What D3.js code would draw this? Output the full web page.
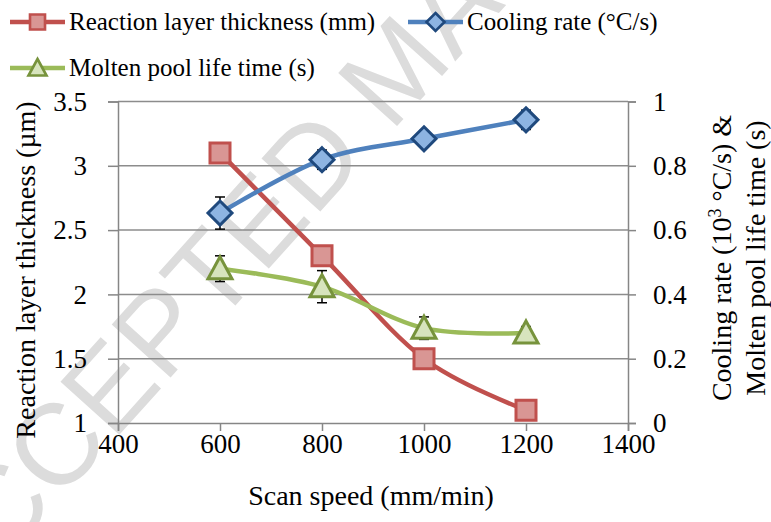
<!DOCTYPE html>
<html>
<head>
<meta charset="utf-8">
<script src="https://cdn.jsdelivr.net/npm/d3@7"></script>
<style>
  body { margin: 0; background: #fff; }
  text { font-family: "Liberation Serif", Tinos, "Times New Roman", Times, "DejaVu Serif", "Noto Serif", serif; fill: #000; }
</style>
</head>
<body>
<div id="chart"></div>
<script>
// scan speeds (mm/min)
const speeds = [600, 800, 1000, 1200];
// reaction layer thickness, left axis
const thickness = [3.1, 2.3, 1.5, 1.1];
// cooling rate (10^3 C/s), right axis
const coolingRate = [0.653, 0.819, 0.884, 0.943];
const coolingErr = [0.05, 0.03, 0.01, 0.03];
// molten pool life time (s), right axis
const poolLife = [0.48, 0.424, 0.295, 0.28];
const poolErr = [0.04, 0.05, 0.035, 0.02];

const xTicks = [400, 600, 800, 1000, 1200, 1400];
const leftTicks = [1, 1.5, 2, 2.5, 3, 3.5];
const rightTicks = [0, 0.2, 0.4, 0.6, 0.8, 1];

const W = 771, H = 522;
const plotL = 118, plotR = 628, plotT = 101.5, plotB = 423;
const serif = '"Liberation Serif", Tinos, "Times New Roman", Times, "DejaVu Serif", "Noto Serif", serif';

const svg = d3.select('#chart').append('svg')
    .attr('width', W)
    .attr('height', H);

// watermark
svg.append('text')
    .attr('transform', 'translate(425,95) rotate(-48)')
    .attr('text-anchor', 'middle')
    .style('font-family', '"Liberation Sans", Arial, sans-serif')
    .style('font-size', '115px')
    .style('fill', '#dcdcdc')
    .text('ACCEPTED MANUSCRIPT');

const x = d3.scaleLinear().domain([400, 1400]).range([plotL, plotR]);
const yL = d3.scaleLinear().domain([1, 3.5]).range([plotB, plotT]);
const yR = d3.scaleLinear().domain([0, 1]).range([plotB, plotT]);

// gridlines
svg.append('g').selectAll('line')
    .data(rightTicks.slice(1))
    .join('line')
    .attr('x1', plotL).attr('x2', plotR)
    .attr('y1', d => yR(d)).attr('y2', d => yR(d))
    .attr('stroke', '#8c8c8c')
    .attr('stroke-width', 1.5);

// axes
const gx = svg.append('g')
    .attr('transform', `translate(0,${plotB})`)
    .call(d3.axisBottom(x).tickValues(xTicks).tickSize(8).tickPadding(3).tickFormat(d3.format('d')));
const gl = svg.append('g')
    .attr('transform', `translate(${plotL},0)`)
    .call(d3.axisLeft(yL).tickValues(leftTicks).tickSize(10).tickPadding(21).tickFormat(d => d));
const gr = svg.append('g')
    .attr('transform', `translate(${plotR},0)`)
    .call(d3.axisRight(yR).tickValues(rightTicks).tickSize(8).tickPadding(17).tickFormat(d => d));

[gx, gl, gr].forEach(g => {
    g.attr('font-family', serif);
    g.select('.domain').attr('stroke', '#868686').attr('stroke-width', 1.5);
    g.selectAll('.tick line').attr('stroke', '#868686').attr('stroke-width', 1.5);
    g.selectAll('.tick text')
        .style('font-family', serif)
        .style('font-size', '27px')
        .attr('fill', '#000');
});

// axis titles
svg.append('text')
    .attr('x', 371).attr('y', 505)
    .attr('text-anchor', 'middle')
    .style('font-size', '28px')
    .text('Scan speed (mm/min)');

svg.append('text')
    .attr('transform', 'translate(35,270) rotate(-90)')
    .attr('text-anchor', 'middle')
    .style('font-size', '28px')
    .text('Reaction layer thickness (µm)');

const rt = svg.append('text')
    .attr('transform', 'translate(731,258) rotate(-90)')
    .attr('text-anchor', 'middle')
    .style('font-size', '28px');
rt.append('tspan').text('Cooling rate (10');
rt.append('tspan').attr('dy', -10).style('font-size', '18px').text('3');
rt.append('tspan').attr('dy', 10).text(' °C/s) &');
svg.append('text')
    .attr('transform', 'translate(765,258) rotate(-90)')
    .attr('text-anchor', 'middle')
    .style('font-size', '28px')
    .text('Molten pool life time (s)');

// series
const curve = d3.curveCatmullRom.alpha(0);
const series = [
    {name: 'Reaction layer thickness (mm)', vals: thickness, err: null, y: yL,
     line: '#C0504D', fill: '#D99694', stroke: '#C0504D', shape: 'square'},
    {name: 'Cooling rate (°C/s)', vals: coolingRate, err: coolingErr, y: yR,
     line: '#4F81BD', fill: '#8DB4E2', stroke: '#1F497D', shape: 'diamond'},
    {name: 'Molten pool life time (s)', vals: poolLife, err: poolErr, y: yR,
     line: '#9BBB59', fill: '#D7E4BD', stroke: '#77933C', shape: 'triangle'}
];

function markerPath(shape) {
    if (shape === 'square') return 'M-10,-10H10V10H-10Z';
    if (shape === 'diamond') return 'M0,-12L12,0L0,12L-12,0Z';
    return 'M0,-12L12,10H-12Z';
}

series.forEach(s => {
    const pts = speeds.map((sp, i) => [x(sp), s.y(s.vals[i])]);
    svg.append('path')
        .attr('d', d3.line().curve(curve)(pts))
        .attr('fill', 'none')
        .attr('stroke', s.line)
        .attr('stroke-width', 4.5)
        .attr('stroke-linejoin', 'round');

    if (s.err) {
        const eg = svg.append('g');
        speeds.forEach((sp, i) => {
            const cx = x(sp), y1 = s.y(s.vals[i] + s.err[i]), y2 = s.y(s.vals[i] - s.err[i]);
            eg.append('line').attr('x1', cx).attr('x2', cx).attr('y1', y1).attr('y2', y2)
                .attr('stroke', '#000').attr('stroke-width', 1.5);
            [y1, y2].forEach(yy => eg.append('line')
                .attr('x1', cx - 5).attr('x2', cx + 5).attr('y1', yy).attr('y2', yy)
                .attr('stroke', '#000').attr('stroke-width', 1.5));
        });
    }

    svg.append('g').selectAll('path')
        .data(pts)
        .join('path')
        .attr('transform', d => `translate(${d[0]},${d[1]})`)
        .attr('d', markerPath(s.shape))
        .attr('fill', s.fill)
        .attr('stroke', s.stroke)
        .attr('stroke-width', 3)
        .attr('stroke-linejoin', 'miter');
});

// legend
const legendPos = [[10, 22], [408, 22], [10, 68]];
series.forEach((s, i) => {
    const [lx, ly] = legendPos[i];
    const g = svg.append('g').attr('transform', `translate(${lx},${ly})`);
    g.append('line').attr('x1', 0).attr('x2', 55).attr('y1', 0).attr('y2', 0)
        .attr('stroke', s.line).attr('stroke-width', 4.5);
    g.append('path').attr('transform', 'translate(27.5,0) scale(0.75)')
        .attr('d', markerPath(s.shape))
        .attr('fill', s.fill).attr('stroke', s.stroke).attr('stroke-width', 3.5);
    g.append('text').attr('x', 59).attr('y', 8)
        .style('font-size', '25px')
        .text(s.name);
});
</script>
</body>
</html>
